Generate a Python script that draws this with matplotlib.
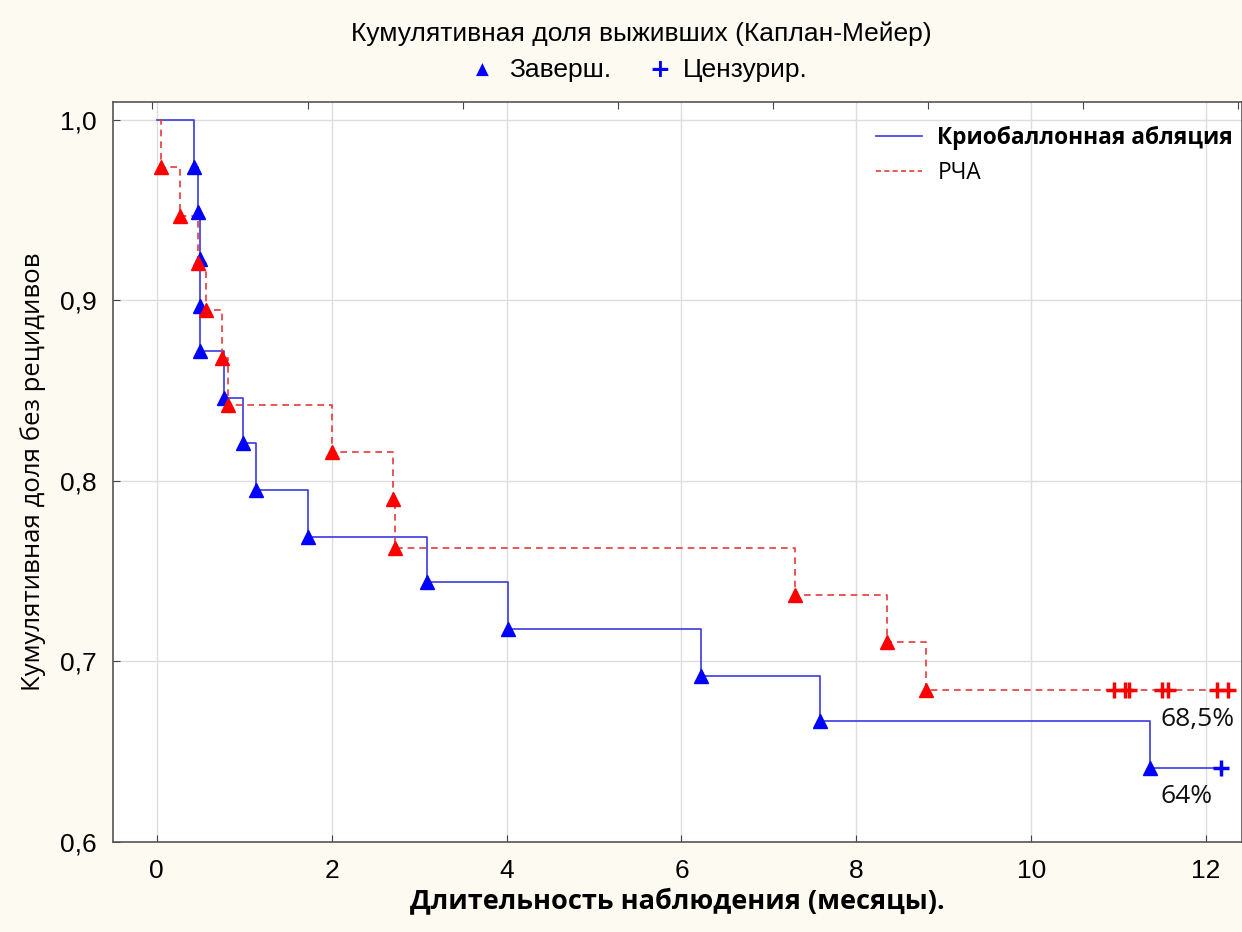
import matplotlib
matplotlib.use("Agg")
import matplotlib.pyplot as plt
from matplotlib.lines import Line2D

# ---- data ----
cryo_times = [0.0, 0.43, 0.47, 0.50, 0.50, 0.50, 0.77, 0.99, 1.13, 1.73, 3.09, 4.02, 6.22, 7.59, 11.36]
cryo_surv = [1.0, 0.974, 0.949, 0.923, 0.897, 0.872, 0.846, 0.821, 0.795, 0.769, 0.744, 0.718, 0.692, 0.667, 0.641]
cryo_cens_t = [12.17]
cryo_cens_s = [0.641]

rfa_times = [0.0, 0.05, 0.27, 0.47, 0.56, 0.75, 0.82, 2.0, 2.70, 2.72, 7.30, 8.35, 8.80]
rfa_surv = [1.0, 0.974, 0.947, 0.921, 0.895, 0.868, 0.842, 0.816, 0.790, 0.763, 0.737, 0.711, 0.684]
rfa_cens_t = [10.95, 11.07, 11.12, 11.50, 11.56, 12.12, 12.25]
rfa_cens_s = [0.684] * 7

xticks = [0, 2, 4, 6, 8, 10, 12]
yticks = [0.6, 0.7, 0.8, 0.9, 1.0]
ytick_labels = ["0,6", "0,7", "0,8", "0,9", "1,0"]

title = "Кумулятивная доля выживших (Каплан-Мейер)"
series_names = ["Криобаллонная абляция", "РЧА"]
end_labels = ["64%", "68,5%"]

# ---- style ----
BG = "#FDFAF2"
BLUE_LINE = "#3a3adf"
BLUE = "#0000ff"
RED_LINE = "#e53b3b"
RED = "#ff0000"
narrow = ["Liberation Sans Narrow", "Liberation Sans", "DejaVu Sans"]

fig = plt.figure(figsize=(12.42, 9.32), dpi=100, facecolor=BG)
ax = fig.add_axes([0.091, 0.0966, 0.909, 0.794])
ax.set_facecolor("white")

# steps
cryo_x = cryo_times + [cryo_cens_t[-1]]
cryo_y = cryo_surv + [cryo_surv[-1]]
ax.step(cryo_x, cryo_y, where="post", color=BLUE_LINE, lw=1.2, zorder=3)
rfa_x = [0.03] + rfa_times[1:] + [rfa_cens_t[-1]]
rfa_y = rfa_surv + [rfa_surv[-1]]
ax.step(rfa_x, rfa_y, where="post", color=RED_LINE, lw=1.2, ls=(0, (4, 3)), zorder=3)

# event markers
ax.plot(cryo_times[1:], cryo_surv[1:], ls="none", marker="^", ms=10, color=BLUE, zorder=4)
ax.plot(rfa_times[1:], rfa_surv[1:], ls="none", marker="^", ms=10, color=RED, zorder=4)
ax.plot(cryo_cens_t, cryo_cens_s, ls="none", marker="+", ms=11, mew=2.5, color=BLUE, zorder=4)
ax.plot(rfa_cens_t, rfa_cens_s, ls="none", marker="+", ms=11, mew=2.5, color=RED, zorder=4)

# end labels
ax.text(11.48, cryo_surv[-1] - 0.009, end_labels[0], fontsize=19, family="Open Sans",
        va="top", ha="left", color="#111111")
ax.text(11.48, rfa_surv[-1] - 0.009, end_labels[1], fontsize=19, family="Open Sans",
        va="top", ha="left", color="#111111")

ax.set_xlim(-0.5, 12.41)
ax.set_ylim(0.6, 1.01)
ax.set_xticks(xticks)
ax.set_xticklabels([str(v) for v in xticks], family=narrow, fontsize=19)
ax.set_yticks(yticks)
ax.set_yticklabels(ytick_labels, family=narrow, fontsize=19)
ax.grid(True, color="#dddddd", lw=1)
ax.set_axisbelow(True)
ax.tick_params(direction="in", length=5, pad=12, color="#444444")
for s in ax.spines.values():
    s.set_color("#555555")
    s.set_linewidth(1.2)

# top secondary ticks
ax2 = ax.twiny()
ax2.set_xlim(ax.get_xlim())
ax2.set_xticks([-0.05 + 1.774 * i for i in range(8)])
ax2.set_xticklabels([])
ax2.tick_params(direction="in", length=5, color="#444444")
for s in ax2.spines.values():
    s.set_visible(False)

ax.set_ylabel("Кумулятивная доля без рецидивов", family="Open Sans", fontsize=18.5, labelpad=10)
ax.set_xlabel("Длительность наблюдения (месяцы).", family="Open Sans", fontweight="bold",
              fontsize=19.5, labelpad=4)

# legend in plot
handles = [Line2D([], [], color=BLUE_LINE, lw=1.2),
           Line2D([], [], color=RED_LINE, lw=1.2, ls=(0, (3, 2)))]
leg = ax.legend(handles, series_names, loc="upper left", bbox_to_anchor=(0.658, 0.995),
                frameon=False, prop={"family": "Open Sans", "size": 16.3},
                handlelength=2.0, handletextpad=0.7, labelspacing=0.5)
leg.get_texts()[0].set_fontweight("bold")
leg.set_zorder(10)

# figure title and marker legend
fig.text(0.5165, 0.964, title, family=narrow, fontsize=19, ha="center", va="center")
fig.text(0.388, 0.925, "▲", color=BLUE, fontsize=12, ha="center", va="center", family="DejaVu Sans")
fig.text(0.410, 0.925, "Заверш.", family=narrow, fontsize=19, ha="left", va="center")
fig.text(0.531, 0.925, "+", color=BLUE, fontsize=18, fontweight="bold", ha="center", va="center", family="DejaVu Sans")
fig.text(0.550, 0.925, "Цензурир.", family=narrow, fontsize=19, ha="left", va="center")

fig.savefig("out.png", dpi=100, facecolor=BG)
